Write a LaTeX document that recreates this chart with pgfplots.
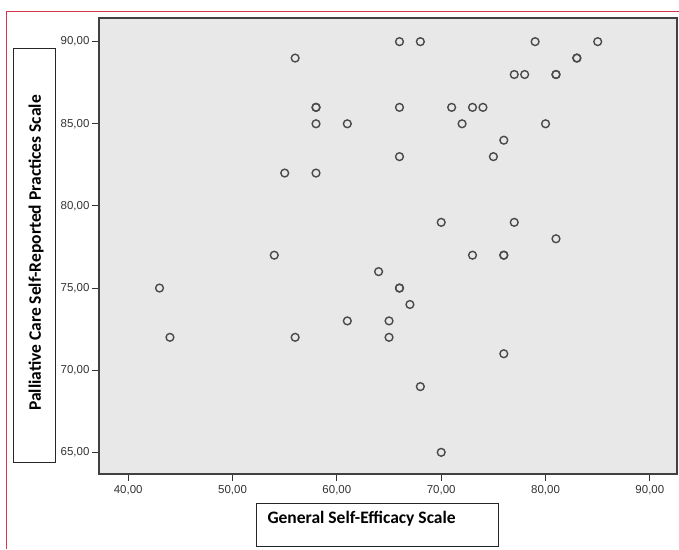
\documentclass[border=0pt]{standalone}
\usepackage{fontspec}
\setmainfont{Liberation Sans}
\newfontfamily\labfont{Carlito}
\usepackage{pgfplots}
\pgfplotsset{compat=1.18}
\definecolor{bg}{HTML}{E8E8E8}
\definecolor{mk}{HTML}{4A4A4A}
\definecolor{redline}{HTML}{D8344E}
\begin{document}
\begin{tikzpicture}[x=1pt,y=1pt]
\useasboundingbox (0,0) rectangle (679,549);
\draw[redline, line width=0.9pt] (6,0) -- (6,538) -- (679,538);
\begin{axis}[
  at={(99pt,75pt)}, anchor=south west,
  scale only axis, width=578pt, height=456pt,
  xmin=37.2, xmax=92.6, ymin=63.68, ymax=91.44,
  xtick={40,50,60,70,80,90}, ytick={65,70,75,80,85,90},
  axis background/.style={fill=bg},
  axis line style={draw=black!75, line width=1.1pt},
  tick align=outside, xtick pos=bottom, ytick pos=left,
  major tick length=7pt,
  tick style={black!80, line width=1pt},
  /pgf/number format/.cd, fixed, fixed zerofill, precision=2, use comma, assume math mode=true,
  /pgfplots/.cd,
  ticklabel style={font=\fontsize{11.5}{13}\selectfont, text=black!80},
  xticklabel style={yshift=-1pt},
  yticklabel style={xshift=1pt},
  clip=false,
]
\addplot[only marks, mark=o, mark size=3.9pt, mark options={draw=mk, line width=1.4pt}] coordinates {
(56,89) (66,90) (68,90) (79,90) (85,90)
(83,89) (83,89)
(77,88) (78,88) (81,88) (81,88)
(66,86) (71,86) (73,86) (74,86)
(61,85) (72,85) (80,85)
(76,84) (66,83) (75,83)
(70,79) (77,79) (81,78)
(73,77) (76,77) (76,77)
(64,76)
(58,86) (58,86) (58,85)
(55,82) (58,82) (54,77)
(43,75) (44,72) (56,72)
(66,75) (66,75) (67,74)
(61,73) (65,73) (65,72)
(76,71) (68,69) (70,65)
};
\end{axis}
% y label box
\draw[black!85, line width=1pt] (13,87) rectangle (55,500);
\node[rotate=90, font=\labfont\bfseries\fontsize{17.5}{19}\selectfont, anchor=center] at (36,296) {Palliative Care Self-Reported Practices Scale};
% x label box
\draw[black!85, line width=1pt] (256,3) rectangle (498,46);
\node[font=\labfont\bfseries\fontsize{17.5}{19}\selectfont, anchor=west] at (264,30) {General Self-Efficacy Scale};
\end{tikzpicture}
\end{document}
